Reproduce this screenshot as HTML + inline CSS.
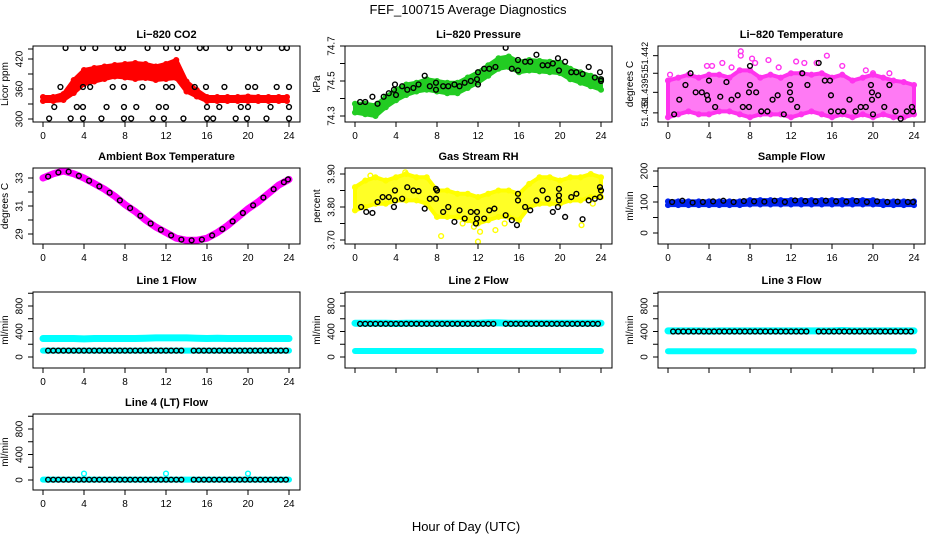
<!DOCTYPE html>
<html><head><meta charset="utf-8"><style>
html,body{margin:0;padding:0;background:#fff;}
svg{display:block;font-family:"Liberation Sans",Arial,sans-serif;}
</style></head><body>
<svg id="chart" width="936" height="540" viewBox="0 0 936 540">
<text x="468" y="14" text-anchor="middle" font-size="13">FEF_100715  Average Diagnostics</text>
<text x="466" y="531" text-anchor="middle" font-size="13">Hour of Day (UTC)</text>
</svg>
<script>
// ---- data ----
const hourTicks = [0,4,8,12,16,20,24];
const hours = [0,1,2,3,4,5,6,7,8,9,10,11,12,13,14,15,16,17,18,19,20,21,22,23,24];

const co2Lo = [336,336,338,352,370,375,380,385,383,380,382,378,380,382,355,345,336,336,336,336,336,336,336,336,336];
const co2Hi = [344,344,350,378,398,402,405,408,410,412,410,405,410,418,375,358,344,344,344,344,345,344,344,344,344];
const co2BlackX = [2.2,3.9,5.1,7.3,7.8,10.2,12.0,13.1,15.3,15.9,18.2,20.0,21.1,23.3,23.8, 1.7,3.9,4.6,6.8,7.9,9.7,12.0,12.6,14.8,15.9,17.7,20.0,20.7,22.8,24.0, 1.1,3.3,3.9,6.2,7.9,9.1,11.3,12.0,16.0,17.2,19.3,20.0,22.2,24.0, 0.6,2.7,3.9,5.7,7.9,8.6,10.7,11.8,13.7,16.0,16.6,18.8,19.9,21.8,24.0];
const co2BlackY = [442,442,442,442,442,442,442,442,442,442,442,442,442,442,442, 364,364,364,364,364,364,364,364,364,364,364,364,364,364,364, 324,324,324,324,324,324,324,324,324,324,324,324,324,324, 301,301,301,301,301,301,301,301,301,301,301,301,301,301,301];

const presLo = [74.32,74.31,74.30,74.35,74.39,74.42,74.44,74.45,74.44,74.43,74.43,74.46,74.49,74.53,74.57,74.58,74.55,74.56,74.555,74.55,74.545,74.51,74.49,74.47,74.45];
const presHi = [74.37,74.37,74.36,74.41,74.45,74.48,74.49,74.51,74.50,74.49,74.49,74.52,74.55,74.59,74.63,74.64,74.61,74.62,74.615,74.61,74.605,74.57,74.55,74.53,74.51];
const presBlackX = [0.5,1,1.7,2.2,2.8,3.3,3.8,3.9,4,4.6,5.1,5.7,6.2,6.8,7.3,7.9,7.9,8.6,9.1,9.7,10.2,10.7,11.3,11.9,12,12,12.6,13.1,13.7,14.7,15.3,15.9,15.9,16.6,17.1,17.7,18.3,18.8,19.3,19.8,19.9,20.5,21.1,21.6,22.2,22.8,23.4,23.9,24,24];
const presBlackY = [74.38,74.38,74.41,74.37,74.41,74.43,74.45,74.48,74.42,74.47,74.45,74.46,74.48,74.53,74.47,74.49,74.45,74.47,74.47,74.48,74.47,74.49,74.50,74.51,74.55,74.48,74.57,74.57,74.58,74.69,74.57,74.62,74.56,74.61,74.61,74.65,74.59,74.59,74.60,74.63,74.56,74.61,74.55,74.55,74.54,74.58,74.52,74.55,74.50,74.51];

const ltLo = [51.4383,51.4385,51.4387,51.4385,51.4385,51.4387,51.4387,51.4385,51.4383,51.4385,51.4385,51.4385,51.4383,51.4385,51.4387,51.4385,51.4383,51.4385,51.4383,51.4385,51.4383,51.4385,51.4383,51.4383,51.4385];
const ltHi = [51.4408,51.4410,51.4412,51.4410,51.4412,51.4412,51.4410,51.4415,51.4415,51.4410,51.4412,51.4410,51.4413,51.4413,51.4412,51.4413,51.4410,51.4412,51.4408,51.4410,51.4412,51.4410,51.4408,51.4407,51.4405];
const ltOutX = [7.1,7.1,8.2,9.8,12.5,15.5,13.3,14.5,5.3,3.8,4.3,17,10.8,19.3,21.6,0.2,20,8.5,6.2];
const ltOutY = [51.4428,51.4425,51.4423,51.4422,51.4421,51.4425,51.4420,51.4420,51.4420,51.4418,51.4418,51.4418,51.4417,51.4415,51.4413,51.4412,51.4413,51.4420,51.4417];
const ltBlackX = [0.6,1.1,1.7,2.2,2.7,3.3,3.8,3.9,4,4.6,5.1,5.7,6.2,6.8,7.3,7.9,7.9,8,8,8.6,9.1,9.7,10.2,10.7,11.3,11.9,11.9,12,12.6,13.1,13.6,14.7,15.3,15.8,15.9,15.9,16.6,17.1,17.7,18.3,18.8,19.3,19.8,19.9,19.9,20,20.5,21.1,21.6,22.2,22.7,23.3,23.8,23.9];
const ltBlackY = [51.4385,51.4395,51.4405,51.4413,51.4400,51.4400,51.4398,51.4395,51.4408,51.4390,51.4397,51.4407,51.4395,51.4398,51.4390,51.4400,51.4390,51.4405,51.4418,51.4400,51.4387,51.4387,51.4395,51.4398,51.4385,51.4400,51.4405,51.4395,51.4390,51.4413,51.4405,51.4420,51.4408,51.4408,51.4398,51.4387,51.4387,51.4387,51.4395,51.4387,51.4390,51.4390,51.4405,51.4400,51.4395,51.4385,51.4398,51.4390,51.4405,51.4387,51.4382,51.4387,51.4390,51.4387];

const ambMag = [33.0,33.3,33.5,33.3,33.0,32.6,32.2,31.7,31.1,30.6,30.0,29.5,29.1,28.7,28.55,28.55,28.7,29.1,29.6,30.2,30.8,31.3,31.9,32.5,32.9];
const ambBlackX = [0.5,1.5,2.5,3.5,4.5,5.5,6.5,7.5,8.5,9.5,10.5,11.5,12.5,13.5,14.5,15.5,16.5,17.5,18.5,19.5,20.5,21.5,22.5,23.5,23.9];
const ambBlackY = [33.1,33.4,33.45,33.15,32.8,32.4,31.95,31.4,30.85,30.3,29.75,29.3,28.9,28.6,28.55,28.6,28.9,29.35,29.9,30.5,31.05,31.6,32.2,32.7,32.9];

const rhLo = [3.79,3.80,3.81,3.81,3.82,3.82,3.82,3.81,3.77,3.77,3.77,3.76,3.75,3.76,3.77,3.77,3.76,3.80,3.81,3.81,3.81,3.82,3.82,3.83,3.83];
const rhHi = [3.86,3.88,3.89,3.88,3.89,3.90,3.89,3.89,3.85,3.85,3.84,3.84,3.83,3.84,3.85,3.85,3.84,3.87,3.89,3.89,3.88,3.89,3.89,3.90,3.89];
const rhOutX = [8.4,12,12.2,13.7,11.6,22.1,4.9,1.5,23.2,10.5,14.6];
const rhOutY = [3.712,3.695,3.725,3.73,3.74,3.745,3.905,3.895,3.81,3.75,3.75];
const rhBlackX = [0.6,1.1,1.7,2.2,2.7,3.3,3.8,3.9,3.9,4.6,5.1,5.7,6.2,6.8,7.3,7.9,7.9,8,8.6,9.1,9.7,10.2,10.7,11.3,11.8,11.9,11.9,12.6,13.1,13.6,14.7,15.3,15.8,15.9,15.9,16.6,17.1,17.7,18.3,18.8,19.3,19.8,19.9,19.9,19.9,20.5,21.1,21.6,22.2,22.8,23.4,23.9,23.9,24];
const rhBlackY = [3.80,3.785,3.782,3.815,3.83,3.83,3.80,3.82,3.85,3.825,3.86,3.85,3.848,3.795,3.825,3.825,3.855,3.85,3.785,3.80,3.755,3.79,3.765,3.785,3.75,3.765,3.785,3.765,3.79,3.795,3.775,3.76,3.745,3.82,3.84,3.80,3.79,3.82,3.85,3.825,3.785,3.80,3.82,3.835,3.855,3.77,3.83,3.84,3.763,3.82,3.825,3.83,3.86,3.85];

const sampleLo = [90,90,90,90,90,90,90,90,92,92,92,92,92,92,92,92,92,92,92,92,92,90,90,90,90];
const sampleHi = [102,102,102,102,102,102,102,102,106,106,106,106,106,106,106,106,106,106,106,106,106,102,102,102,102];
const sampleBlack = [100,104,98,100,102,104,100,103,102,101,104,100,105,103,102,104,102,101,103,100,102,100,101,100,100];

const flowBlackX = [0.5,1,1.5,2,2.5,3,3.5,4,4.5,5,5.5,6,6.5,7,7.5,8,8.5,9,9.5,10,10.5,11,11.5,12,12.5,13,13.5,14.7,15.2,15.7,16.2,16.7,17.2,17.7,18.2,18.7,19.2,19.7,20.2,20.7,21.2,21.7,22.2,22.7,23.2,23.7];
const line1Upper = [290,290,290,290,285,290,290,290,290,290,295,300,300,300,300,295,290,295,290,290,290,290,290,290,290];
const line1Lower = [100,100,100,100,100,100,100,100,100,100,100,100,100,100,100,100,100,100,100,100,100,100,100,100,100];
const line1Black = 100;
const line2Upper = [530,530,530,530,525,530,530,530,530,530,530,530,530,535,535,530,530,530,530,530,530,530,530,530,530];
const line2Lower = [95,95,95,95,95,95,95,95,95,95,95,95,95,95,95,95,95,95,95,95,95,95,95,95,95];
const line2Black = 520;
const line3Upper = [410,410,410,410,405,410,410,410,410,410,410,410,410,410,410,410,410,415,410,410,410,410,410,410,410];
const line3Lower = [90,90,90,90,90,90,90,90,90,90,90,90,90,90,90,90,90,90,90,90,90,90,90,90,90];
const line3Black = 400;
const line4Cyan = [5,5,5,5,5,5,5,5,5,5,5,5,5,5,5,5,5,5,5,5,5,5,5,5,5];
const line4SpikeX = [4,12,20];
const line4SpikeY = [100,100,100];
const line4Black = 5;

// ---- layout ----
const NS = "http://www.w3.org/2000/svg";
const svg = document.getElementById('chart');
const colX0 = [43,355,668];
const rowTop = [46,168,292,414];
const PXH = 246/24;
function el(tag, attrs, parent){
  const e = document.createElementNS(NS, tag);
  for (const k in attrs) e.setAttribute(k, attrs[k]);
  (parent||svg).appendChild(e);
  return e;
}
function makePanel(name, col, row, title, ytitle, a1, a2, yticks, ylabels, showX, yfs){
  const fs = yfs || 10;
  const g = el('g', {});
  
  
  const x0 = colX0[col], top = rowTop[row], bot = top + 76;
  const left = x0 - 10, right = x0 + 257;
  const xs = h => x0 + h * PXH;
  const ys = v => a1[1] + (v - a1[0]) * (a2[1] - a1[1]) / (a2[0] - a1[0]);
  const clip = el('clipPath', {id: 'clip-' + name}, g);
  el('rect', {x: left, y: top, width: right - left, height: bot - top}, clip);
  const plot = el('g', {'clip-path': 'url(#clip-' + name + ')'}, g);
  
  
  const box = el('rect', {x: left, y: top, width: right - left, height: bot - top, fill: 'none', stroke: '#000', 'stroke-width': 1}, g);
  
  
  const t = el('text', {x: (left + right) / 2, y: top - 8, 'text-anchor': 'middle', 'font-size': 11, 'font-weight': 'bold'}, g);
  t.textContent = title;
  
  
  const yt = el('text', {x: left - 25, y: (top + bot) / 2, 'text-anchor': 'middle', 'font-size': 10, transform: 'rotate(-90 ' + (left - 25) + ' ' + ((top + bot) / 2) + ')'}, g);
  yt.textContent = ytitle;
  
  
  el('line', {x1: xs(0), x2: xs(24), y1: bot, y2: bot, stroke: '#000'}, g);
  hourTicks.forEach(h => {
    el('line', {x1: xs(h), x2: xs(h), y1: bot, y2: bot + 5, stroke: '#000'}, g);
    if (showX) {
      const lb = el('text', {x: xs(h), y: bot + 17, 'text-anchor': 'middle', 'font-size': 10}, g);
      lb.textContent = h;
      
      
    }
  });
  el('line', {x1: left, x2: left, y1: ys(yticks[0]), y2: ys(yticks[yticks.length - 1]), stroke: '#000'}, g);
  yticks.forEach((v, i) => {
    el('line', {x1: left - 5, x2: left, y1: ys(v), y2: ys(v), stroke: '#000'}, g);
    if (ylabels[i] !== '') {
      const lx = left - 13, ly = ys(v);
      const lb = el('text', {x: lx, y: ly, 'text-anchor': 'middle', 'dominant-baseline': 'central', 'font-size': fs, transform: 'rotate(-90 ' + lx + ' ' + ly + ')'}, g);
      lb.textContent = ylabels[i];
      
      
    }
  });
  return {plot, xs, ys};
}
function band(p, xsArr, lo, hi, color, name, op){
  let d = 'M';
  xsArr.forEach((h, i) => { d += p.xs(h) + ',' + p.ys(hi[i]) + ' L'; });
  for (let i = xsArr.length - 1; i >= 0; i--) d += p.xs(xsArr[i]) + ',' + p.ys(lo[i]) + (i ? ' L' : ' Z');
  const b = el('path', {d: d, fill: color, 'fill-opacity': op || 1, stroke: color, 'stroke-width': 4, 'stroke-linejoin': 'round'}, p.plot);
  
  
  xsArr.forEach((h, i) => {
    [lo[i], hi[i]].forEach(v => el('circle', {cx: p.xs(h), cy: p.ys(v), r: 2.4, fill: 'none', stroke: color, 'stroke-width': 1.3}, p.plot));
  });
}
function pts(p, xArr, yArr, color, name){
  const g = el('g', {}, p.plot);
  
  
  xArr.forEach((h, i) => {
    const c = el('circle', {cx: p.xs(h), cy: p.ys(yArr[i]), r: 2.4, fill: 'none', stroke: color, 'stroke-width': 1.4}, g);
    
    
  });
}
function line(p, arr, color, name, w){
  const pl = el('polyline', {points: hours.map((h, i) => p.xs(h) + ',' + p.ys(arr[i])).join(' '), fill: 'none', stroke: color, 'stroke-width': w, 'stroke-linecap': 'round'}, p.plot);
  
  
}
const flowTicks = [0,200,400,600,800,1000];
const flowLabels = ['0','','400','','800',''];

let p = makePanel('co2', 0, 0, 'Li\u2212820 CO2', 'Licor ppm', [300,119], [420,59], [300,330,360,390,420,440], ['300','','360','','420',''], true);
band(p, hours.slice(0, 24).concat([23.8]), co2Lo, co2Hi, '#ff0000', 'co2-licor-series');
pts(p, co2BlackX, co2BlackY, '#000', 'co2-average-series');

p = makePanel('pressure', 1, 0, 'Li\u2212820 Pressure', 'kPa', [74.3,116], [74.7,46], [74.3,74.4,74.5,74.6,74.7], ['74.3','','74.5','','74.7'], true);
band(p, hours, presLo, presHi, '#22cc22', 'pressure-licor-series');
pts(p, presBlackX, presBlackY, '#000', 'pressure-average-series');

p = makePanel('li-temp', 2, 0, 'Li\u2212820 Temperature', 'degrees C', [51.439,107], [51.442,63], [51.4386,51.4400,51.4413,51.4425], ['51.439','51.439','51','51.442'], true, 9);
band(p, hours, ltLo, ltHi, '#ff33ee', 'li-temp-licor-series', 0.65);
pts(p, ltOutX, ltOutY, '#ff33ee', 'li-temp-outliers');
pts(p, ltBlackX, ltBlackY, '#000', 'li-temp-average-series');

p = makePanel('ambient-temp', 0, 1, 'Ambient Box Temperature', 'degrees C', [29,234], [33,178], [29,30,31,32,33], ['29','','31','','33'], true);
line(p, ambMag, '#ff00ff', 'ambient-temp-series', 7);
pts(p, ambBlackX, ambBlackY, '#000', 'ambient-temp-average-series');

p = makePanel('rh', 1, 1, 'Gas Stream RH', 'percent', [3.70,240], [3.90,174], [3.70,3.75,3.80,3.85,3.90], ['3.70','','3.80','','3.90'], true);
band(p, hours, rhLo, rhHi, '#ffff00', 'rh-series', 0.85);
pts(p, rhOutX, rhOutY, '#ffff00', 'rh-outliers');
pts(p, rhBlackX, rhBlackY, '#000', 'rh-average-series');

p = makePanel('sample-flow', 2, 1, 'Sample Flow', 'ml/min', [0,233], [200,171], [0,50,100,150,200], ['0','','100','','200'], true);
band(p, hours, sampleLo, sampleHi, '#0022ee', 'sample-flow-series');
pts(p, hours.map(h => Math.min(h + 0.4, 23.9)), sampleBlack, '#000', 'sample-flow-average-series');

p = makePanel('line1-flow', 0, 2, 'Line 1 Flow', 'ml/min', [0,357], [800,306], flowTicks, flowLabels, true);
line(p, line1Upper, '#00ffff', 'line1-upper-series', 7);
line(p, line1Lower, '#00ffff', 'line1-lower-series', 6);
pts(p, flowBlackX, flowBlackX.map(() => line1Black), '#000', 'line1-average-series');

p = makePanel('line2-flow', 1, 2, 'Line 2 Flow', 'ml/min', [0,357], [800,306], flowTicks, flowLabels, false);
line(p, line2Upper, '#00ffff', 'line2-upper-series', 7);
line(p, line2Lower, '#00ffff', 'line2-lower-series', 6);
pts(p, flowBlackX, flowBlackX.map(() => line2Black), '#000', 'line2-average-series');

p = makePanel('line3-flow', 2, 2, 'Line 3 Flow', 'ml/min', [0,357], [800,306], flowTicks, flowLabels, false);
line(p, line3Upper, '#00ffff', 'line3-upper-series', 7);
line(p, line3Lower, '#00ffff', 'line3-lower-series', 6);
pts(p, flowBlackX, flowBlackX.map(() => line3Black), '#000', 'line3-average-series');

p = makePanel('line4-flow', 0, 3, 'Line 4 (LT) Flow', 'ml/min', [0,480], [800,429], flowTicks, flowLabels, true);
line(p, line4Cyan, '#00ffff', 'line4-series', 6);
pts(p, line4SpikeX, line4SpikeY, '#00ffff', 'line4-spikes');
pts(p, flowBlackX, flowBlackX.map(() => line4Black), '#000', 'line4-average-series');
</script>
</body></html>
